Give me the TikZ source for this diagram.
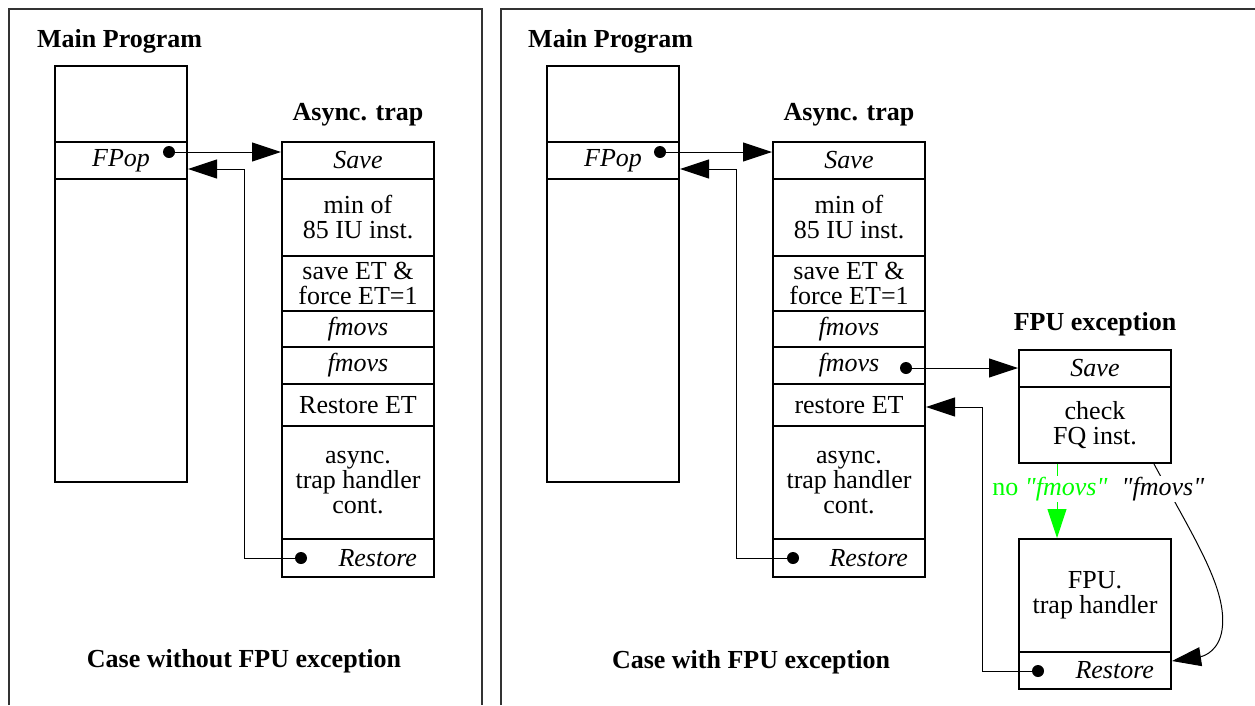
\documentclass[tikz,border=0pt]{standalone}
\usepackage{fontspec}
\setmainfont{Liberation Serif}[Ligatures=TeXOff]
\usetikzlibrary{arrows.meta}
\definecolor{brightgreen}{RGB}{0,255,0}
\tikzset{
  cell/.style={draw, line width=2pt, inner sep=0pt, align=center,
    font=\fontsize{26}{25}\selectfont},
  wide/.style={minimum width=152pt},
  narrow/.style={minimum width=132pt},
  rightlabel/.style={text width=118pt, align=right},
  title/.style={font=\fontsize{26}{25}\selectfont\bfseries, inner sep=0pt},
  conn/.style={line width=1pt},
  tip/.style={-{Triangle[length=29pt,width=19pt]}},
  frame/.style={line width=1.5pt, black!80},
  dot/.style={circle, fill, inner sep=0pt, minimum size=12pt},
  edgelabel/.style={fill=white, inner sep=1pt, font=\fontsize{26}{25}\selectfont},
}
\begin{document}
\begin{tikzpicture}[x=1pt, y=-1pt]
\useasboundingbox (0,0) rectangle (1255,705);

% panel frames
\draw[frame] (9,705) -- (9,9) -- (482,9) -- (482,705);
\draw[frame] (501,705) -- (501,9) -- (1255,9);

% ---------- left panel: case without FPU exception ----------
\node[title, anchor=base west] (lmt) at (37,47) {Main Program};
\node[cell, narrow, minimum height=76pt]  (lm1) at (121,104) {};
\node[cell, narrow, minimum height=37pt]  (lfp) at (121,160.5) {\textit{FPop}};
\node[cell, narrow, minimum height=303pt] (lm2) at (121,330.5) {};

\node[title, anchor=base] (lat) at (358,120) {Async. trap};
\node[cell, wide, minimum height=37pt]  (la1) at (358,160.5) {\textit{Save}};
\node[cell, wide, minimum height=77pt]  (la2) at (358,217.5) {min of\\85 IU inst.};
\node[cell, wide, minimum height=55pt]  (la3) at (358,283.5) {save ET \&\\force ET=1};
\node[cell, wide, minimum height=36pt]  (la4) at (358,329) {\textit{fmovs}};
\node[cell, wide, minimum height=37pt]  (la5) at (358,365.5) {\textit{fmovs}};
\node[cell, wide, minimum height=42pt]  (la6) at (358,405) {Restore ET};
\node[cell, wide, minimum height=113pt] (la7) at (358,482.5) {async.\\trap handler\\cont.};
\node[cell, wide, rightlabel, minimum height=38pt] (la8) at (358,558) {\textit{Restore}};

\node[title, anchor=base] (lcase) at (244,667) {Case without FPU exception};

\node[dot] (ld1) at (169,152) {};
\draw[conn, tip] (ld1.center) -- (ld1.center -| la1.west);
\node[dot] (ld2) at (301,558) {};
\coordinate (lbend) at (244,169);
\draw[conn, tip] (ld2.center) -| (lbend) -- (lbend -| lfp.east);

% ---------- right panel: case with FPU exception ----------
\node[title, anchor=base west] (rmt) at (528,47) {Main Program};
\node[cell, narrow, minimum height=76pt]  (rm1) at (613,104) {};
\node[cell, narrow, minimum height=37pt]  (rfp) at (613,160.5) {\textit{FPop}};
\node[cell, narrow, minimum height=303pt] (rm2) at (613,330.5) {};

\node[title, anchor=base] (rat) at (849,120) {Async. trap};
\node[cell, wide, minimum height=37pt]  (ra1) at (849,160.5) {\textit{Save}};
\node[cell, wide, minimum height=77pt]  (ra2) at (849,217.5) {min of\\85 IU inst.};
\node[cell, wide, minimum height=55pt]  (ra3) at (849,283.5) {save ET \&\\force ET=1};
\node[cell, wide, minimum height=36pt]  (ra4) at (849,329) {\textit{fmovs}};
\node[cell, wide, minimum height=37pt]  (ra5) at (849,365.5) {\textit{fmovs}};
\node[cell, wide, minimum height=42pt]  (ra6) at (849,405) {restore ET};
\node[cell, wide, minimum height=113pt] (ra7) at (849,482.5) {async.\\trap handler\\cont.};
\node[cell, wide, rightlabel, minimum height=38pt] (ra8) at (849,558) {\textit{Restore}};

\node[title, anchor=base] (rcase) at (751,668) {Case with FPU exception};

\node[title, anchor=base] (ft) at (1095,330) {FPU exception};
\node[cell, wide, minimum height=37pt]  (f1) at (1095,368.5) {\textit{Save}};
\node[cell, wide, minimum height=76pt]  (f2) at (1095,425) {check\\FQ inst.};
\node[cell, wide, minimum height=113pt] (f3) at (1095,595.5) {FPU.\\trap handler};
\node[cell, wide, rightlabel, minimum height=37pt] (f4) at (1095,670.5) {\textit{Restore}};

% call into the async trap and return
\node[dot] (rd1) at (660,152) {};
\draw[conn, tip] (rd1.center) -- (rd1.center -| ra1.west);
\node[dot] (rd2) at (793,558) {};
\coordinate (rbend) at (736,169);
\draw[conn, tip] (rd2.center) -| (rbend) -- (rbend -| rfp.east);

% fmovs raises the FPU exception, return to restore ET
\node[dot] (rd3) at (906,368) {};
\draw[conn, tip] (rd3.center) -- (rd3.center -| f1.west);
\node[dot] (rd4) at (1038,671) {};
\coordinate (rbend2) at (982,407);
\draw[conn, tip] (rd4.center) -| (rbend2) -- (rbend2 -| ra6.east);

% branches out of the FQ check
\draw[conn, tip, brightgreen] ([xshift=-38pt]f2.south) -- ([xshift=-38pt]f3.north);
\draw[conn, tip] ([xshift=-18pt]f2.south east)
  .. controls (1195,540) and (1228,590) .. (1222,630)
  .. controls (1219,650) and (1205,656) .. ([yshift=9.5pt]f4.east);
\node[edgelabel, anchor=base, text=brightgreen] (lno) at (1050,495) {no \textit{"fmovs"}};
\node[edgelabel, anchor=base] (lyes) at (1163,495) {\textit{"fmovs"}};
\end{tikzpicture}
\end{document}
